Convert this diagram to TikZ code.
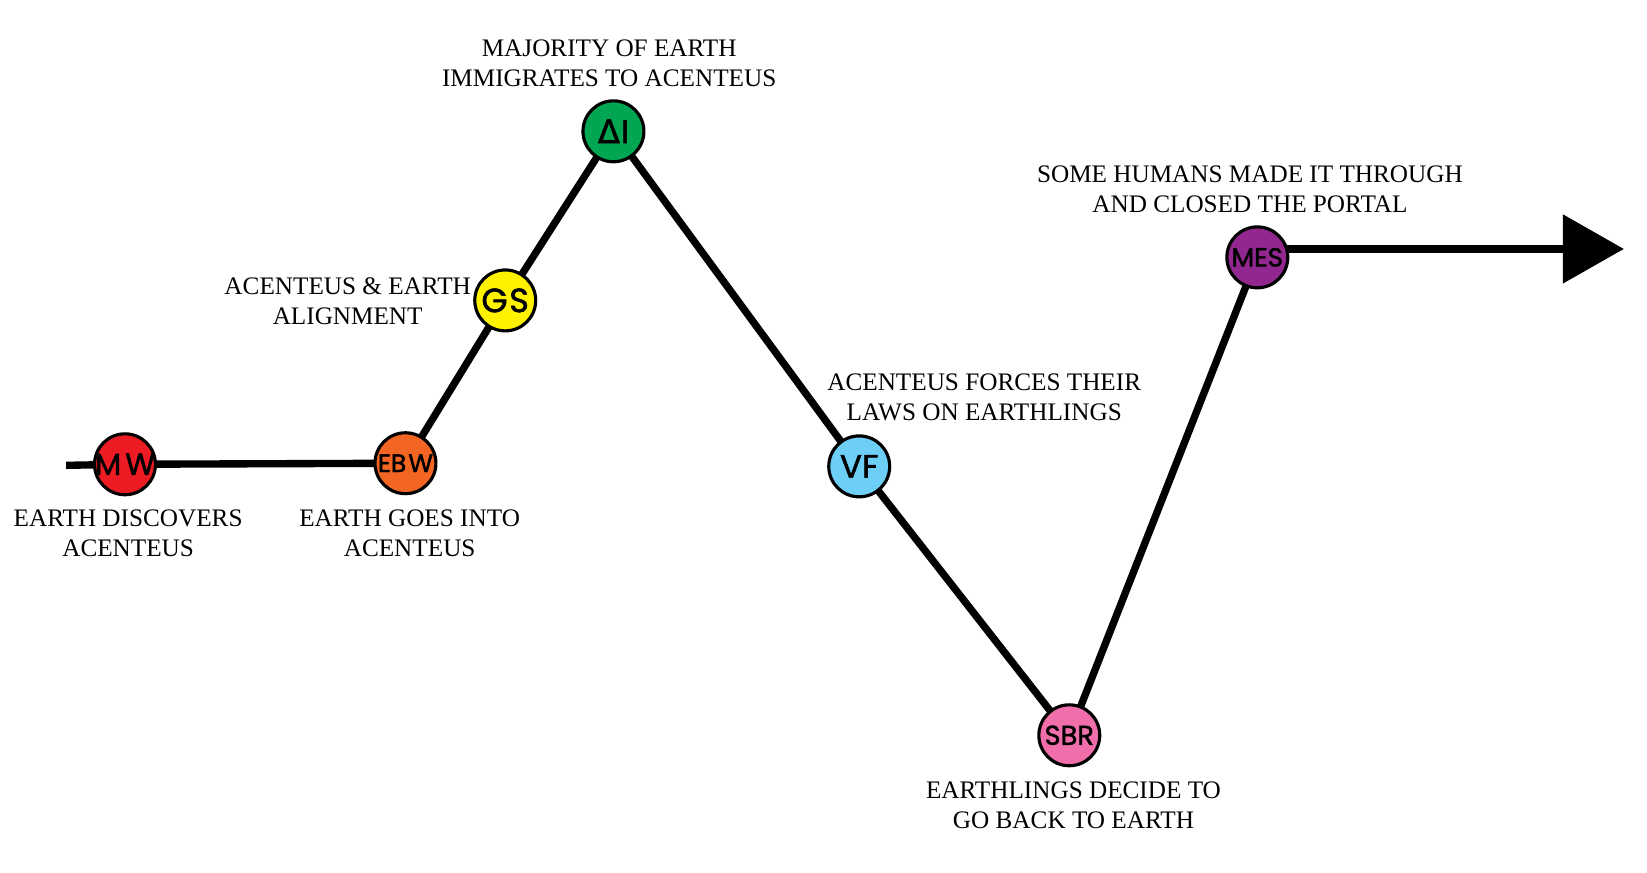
\documentclass[tikz,border=0pt]{standalone}
\usepackage{fontspec}
\setmainfont{Liberation Serif}
\newfontfamily\nodefont{Poppins}[FakeBold=1.6]
\newfontfamily\grkfont{DejaVu Sans}[FakeBold=1.6]
\usetikzlibrary{arrows.meta,backgrounds}
\definecolor{cMW}{HTML}{ED1C24}
\definecolor{cEBW}{HTML}{F26522}
\definecolor{cGS}{HTML}{FFF200}
\definecolor{cAI}{HTML}{00A651}
\definecolor{cVF}{HTML}{6DCFF6}
\definecolor{cSBR}{HTML}{F06EAA}
\definecolor{cMES}{HTML}{92278F}
\newcommand{\inring}[1]{\makebox[0pt]{#1}}
\tikzset{
  event/.style={circle, draw=black, line width=3pt, minimum size=58pt, inner sep=0pt, font=\nodefont},
  track/.style={line width=7pt, black},
  lbl/.style={align=center, font=\fontsize{24}{28.5}\selectfont, inner sep=0pt}
}
\begin{document}
\begin{tikzpicture}[x=1pt,y=-1pt]
\useasboundingbox (0,0) rectangle (1568,831);
\node[event, fill=cMW]  (MW)  at (119,442) {\fontsize{29}{29}\selectfont\inring{M\kern4pt W}};
\node[event, fill=cEBW] (EBW) at (386,441) {\fontsize{24}{24}\selectfont\inring{EB\kern2pt W}};
\node[event, fill=cGS]  (GS)  at (481,286) {\fontsize{32}{32}\selectfont\inring{G\kern1.5pt S}};
\node[event, fill=cAI]  (AI)  at (584,125) {\fontsize{31}{31}\selectfont\inring{{\grkfont Δ}\kern1pt I}};
\node[event, fill=cVF]  (VF)  at (818,444) {\fontsize{31}{31}\selectfont\inring{VF}};
\node[event, fill=cSBR] (SBR) at (1018,700) {\fontsize{26}{26}\selectfont\inring{SBR}};
\node[event, fill=cMES] (MES) at (1197,245) {\fontsize{25}{25}\selectfont\inring{MES}};
\coordinate (start) at (63,443);
\coordinate (tip) at (1546,237);
\begin{scope}[on background layer]
  \draw[track] (start) -- (MW.center) -- (EBW.center) -- (GS.center) -- (AI.center)
     -- (VF.center) -- (SBR.center) -- (MES.center);
  \draw[track, -{Triangle[length=58pt,width=64pt]}] (MES.center |- tip) -- (tip);
\end{scope}
\node[lbl] (tMW)  at (122,508) {EARTH DISCOVERS\\ACENTEUS};
\node[lbl] (tEBW) at (390,508) {EARTH GOES INTO\\ACENTEUS};
\node[lbl] (tGS)  at (331,287) {ACENTEUS \& EARTH\\ALIGNMENT};
\node[lbl] (tAI)  at (580,60)  {MAJORITY OF EARTH\\IMMIGRATES TO ACENTEUS};
\node[lbl] (tVF)  at (937,378) {ACENTEUS FORCES THEIR\\LAWS ON EARTHLINGS};
\node[lbl] (tSBR) at (1022,767) {EARTHLINGS DECIDE TO\\GO BACK TO EARTH};
\node[lbl] (tMES) at (1190,180) {SOME HUMANS MADE IT THROUGH\\AND CLOSED THE PORTAL};
\end{tikzpicture}
\end{document}
